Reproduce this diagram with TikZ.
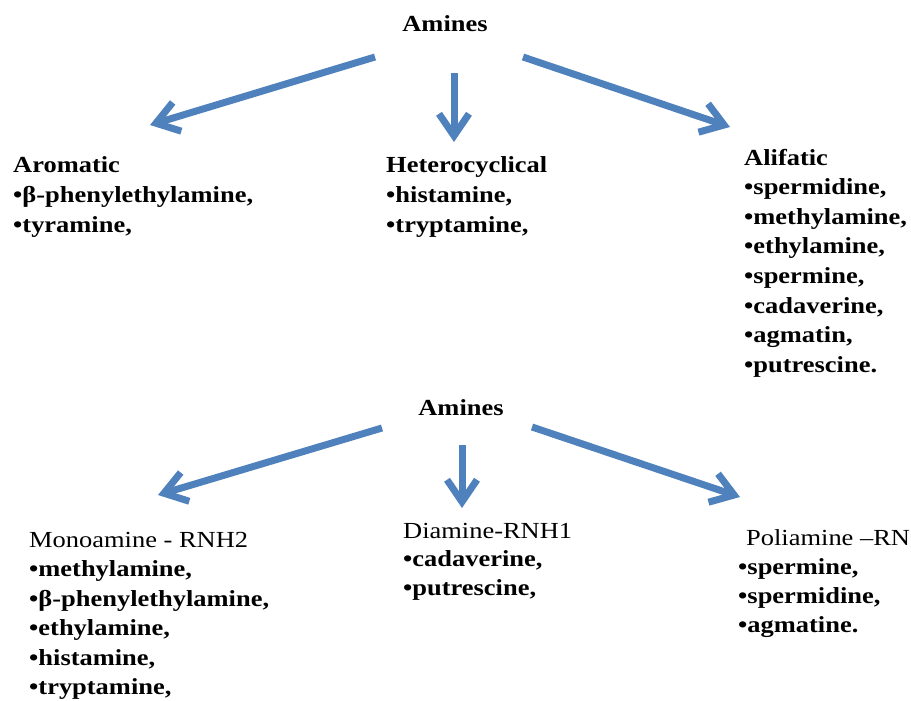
\documentclass[tikz,border=0pt]{standalone}
\usepackage{fontspec}
\setmainfont{Liberation Serif}[FakeStretch=1.15]
\usetikzlibrary{arrows.meta}
\definecolor{arrowblue}{RGB}{79,129,189}
\begin{document}
\begin{tikzpicture}[x=1pt,y=-1pt,
  title/.style={anchor=base, inner sep=0pt, font=\fontsize{23}{27}\selectfont\bfseries},
  hdr/.style={anchor=base west, inner sep=0pt, font=\fontsize{23}{27}\selectfont\bfseries},
  hdrr/.style={anchor=base west, inner sep=0pt, font=\fontsize{23}{27}\selectfont},
  item/.style={anchor=base west, inner sep=0pt, font=\fontsize{23}{27}\selectfont\bfseries},
  conn/.style={draw=arrowblue, line width=7pt,
    -{Straight Barb[length=22pt, width=30pt, line width=7pt]}}]
\useasboundingbox (0,0) rectangle (911,701);

% ---- upper diagram ----
\node[title] (amA) at (445,32) {Amines};
\node[hdr] (arom) at (13,172) {Aromatic};
\foreach \t [count=\i] in {{β-phenylethylamine,},{tyramine,}}
  \node[item] (arom-\i) at (13,172+30*\i) {•\t};
\node[hdr] (het) at (386,172) {Heterocyclical};
\foreach \t [count=\i] in {{histamine,},{tryptamine,}}
  \node[item] (het-\i) at (386,172+30*\i) {•\t};
\node[hdr] (ali) at (744,165) {Alifatic};
\foreach \t [count=\i] in {{spermidine,},{methylamine,},{ethylamine,},{spermine,},{cadaverine,},{agmatin,},{putrescine.}}
  \node[item] (ali-\i) at (744,165+29.6*\i) {•\t};

\coordinate (a1s) at (375,57);  \coordinate (a1e) at (150,125);
\coordinate (a2s) at (454,73);  \coordinate (a2e) at (454,142);
\coordinate (a3s) at (523,57);  \coordinate (a3e) at (730,127);
\draw[conn] (a1s) -- (a1e);
\draw[conn] (a2s) -- (a2e);
\draw[conn] (a3s) -- (a3e);

% ---- lower diagram ----
\node[title] (amB) at (461,415) {Amines};
\node[hdrr] (mono) at (29,547) {Monoamine - RNH2};
\foreach \t [count=\i] in {{methylamine,},{β-phenylethylamine,},{ethylamine,},{histamine,},{tryptamine,}}
  \node[item] (mono-\i) at (29,547+29.5*\i) {•\t};
\node[hdrr] (dia) at (403,538) {Diamine-RNH1};
\foreach \t [count=\i] in {{cadaverine,},{putrescine,}}
  \node[item] (dia-\i) at (403,538+28.5*\i) {•\t};
\node[hdrr] (poli) at (746,545) {Poliamine –RN};
\foreach \t [count=\i] in {{spermine,},{spermidine,},{agmatine.}}
  \node[item] (poli-\i) at (738,545+29*\i) {•\t};

\coordinate (b1s) at (382,428); \coordinate (b1e) at (158,495);
\coordinate (b2s) at (462,445); \coordinate (b2e) at (462,508);
\coordinate (b3s) at (532,427); \coordinate (b3e) at (740,497);
\draw[conn] (b1s) -- (b1e);
\draw[conn] (b2s) -- (b2e);
\draw[conn] (b3s) -- (b3e);
\end{tikzpicture}
\end{document}
